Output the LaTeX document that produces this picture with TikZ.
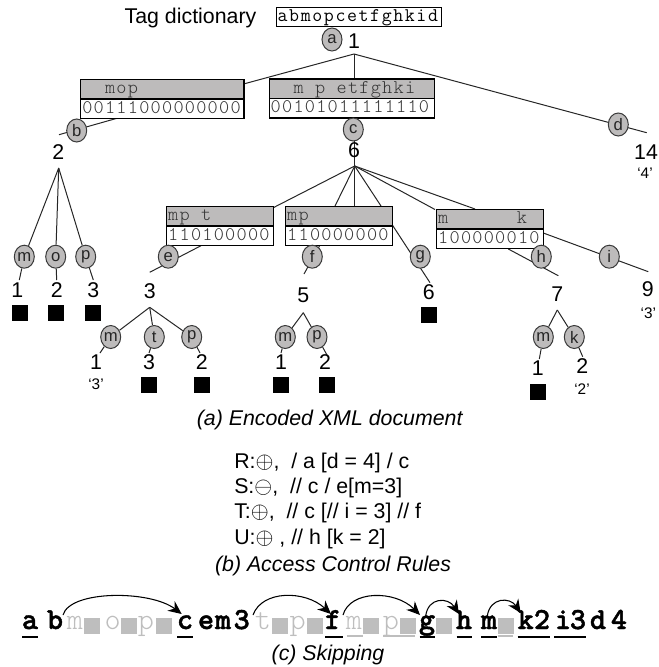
\documentclass[tikz,border=0pt]{standalone}
\usepackage{fontspec}
\setmainfont{Liberation Sans}
\newfontfamily\cellfont[LetterSpace=6.5]{Latin Modern Mono Light}
\newfontfamily\dictfont[LetterSpace=8.3]{Latin Modern Mono}
\newfontfamily\skipfont[BoldFeatures={FakeBold=1.5}]{Latin Modern Mono Light}
\newcommand\cellgap{\hspace*{8.55pt}}
\usetikzlibrary{shapes.geometric,arrows.meta,backgrounds}
\definecolor{hdrgray}{HTML}{BDBBBB}
\definecolor{skipgray}{HTML}{BEBEBE}
\definecolor{rim}{HTML}{3A3A3A}
\tikzset{
  x=0.75pt,y=-0.75pt,
  tagcirc/.style={ellipse,draw=rim,line width=0.75pt,fill=hdrgray,minimum width=15pt,minimum height=17.25pt,inner sep=0pt,font=\fontsize{12.5}{13}\selectfont,text=black!85},
  numlbl/.style={inner sep=0pt,font=\fontsize{16}{18}\selectfont},
  quotelbl/.style={inner sep=0pt,font=\fontsize{11.5}{13}\selectfont},
  leafsq/.style={fill=black,minimum size=12pt,inner sep=0pt},
  cellrow/.style={draw=black,line width=0.8pt,anchor=north west,align=left,inner xsep=1.2pt,inner ysep=0pt,text height=9pt,text depth=2.5pt,font=\cellfont\fontsize{14.5}{15}\selectfont,text=black!80},
  hdrrow/.style={cellrow,fill=hdrgray},
  bitrow/.style={cellrow,fill=white},
  wide/.style={text width=120pt,minimum width=122.6pt,minimum height=14.6pt},
  wider/.style={text width=121.6pt,minimum width=124.1pt,minimum height=14.6pt},
  narrow/.style={text width=77.4pt,minimum width=79.9pt,minimum height=14.6pt},
  edge/.style={line width=0.75pt,draw=black!85},
  caption/.style={inner sep=0pt,font=\fontsize{16}{18}\selectfont\itshape},
  rulelbl/.style={inner sep=0pt,anchor=west,font=\fontsize{16}{18}\selectfont},
  skiptxt/.style={inner sep=0pt,anchor=base,font=\skipfont\bfseries\fontsize{23}{24}\selectfont},
  skipoff/.style={inner sep=0pt,anchor=base,text=skipgray,font=\skipfont\fontsize{23}{24}\selectfont},
  skipsq/.style={fill=skipgray,minimum size=12pt,inner sep=0pt},
  skiparc/.style={line width=0.8pt,-{Stealth[length=10pt,width=9pt]}},
  ubar/.style={line width=1.3pt,draw=black},
  ubaroff/.style={line width=1.3pt,draw=skipgray},
}
\begin{document}
\begin{tikzpicture}
\useasboundingbox (0,0) rectangle (658,667);

\node[inner sep=0pt,font=\fontsize{16}{18}\selectfont] (dicttitle) at (190.5,18) {Tag dictionary};
\node[draw=black,line width=0.8pt,anchor=north west,inner xsep=1.2pt,inner ysep=0pt,text width=121.6pt,minimum width=124.1pt,minimum height=14.25pt,text height=8.5pt,text depth=2.5pt,align=left,font=\dictfont\fontsize{14.5}{15}\selectfont] (dict) at (275.5,7) {abmopcetfghkid};

% bitmap boxes
\node[hdrrow,wide] (bh) at (80,79) {\cellgap\cellgap mop};
\node[bitrow,wide] (bb) at (80,98.5) {00111000000000};
\node[hdrrow,wider] (ch) at (268.5,78.5) {\cellgap\cellgap m\cellgap p\cellgap etfghki};
\node[bitrow,wider] (cb) at (268.5,98) {00101011111110};
\node[hdrrow,narrow] (eh) at (166,206) {mp\cellgap t};
\node[bitrow,narrow] (eb) at (166,225.5) {110100000};
\node[hdrrow,narrow] (fh) at (285,206) {mp};
\node[bitrow,narrow] (fb) at (285,225.5) {110000000};
\node[hdrrow,narrow] (hh) at (436,209) {m\cellgap\cellgap\cellgap\cellgap\cellgap\cellgap k};
\node[bitrow,narrow] (hb) at (436,228.5) {100000010};

% tag circles
\foreach \n/\x/\y/\t in {a/332/39.5/a,b/76.7/130.5/b,c/353.3/129.5/c,d/618.3/124.5/d,
  lm/24.3/256.7/m,lo/55.7/256.7/o,lp/85.7/256.7/p,e/168.3/256.7/e,f/312.3/256.7/f,
  g/420.3/256.7/g,h/541.3/256.7/h,i/609.3/256.7/i,em/110.7/337/m,et/154.3/337/t,ep/191.7/337/p,
  fm/285.3/337/m,fp/317/337/p,hm/543.3/337/m,hk/574.3/337/k}
  \node[tagcirc] (c\n) at (\x,\y) {\t};

% numbers
\foreach \n/\x/\y/\t in {root/354/40.7/1,six/354/150/6,two/58.3/151.7/2,ft/646/151.7/14,
  lmn/17.3/290/1,lon/56.7/290/2,lpn/93.3/290/3,en/149.7/290.7/3,fn/303.3/295/5,gn/428.7/291.7/6,
  hn/557.3/294/7,in/647.7/289/9,emn/96/361.7/1,etn/149/361.7/3,epn/201.7/361.7/2,
  fmn/281/361.7/1,fpn/325/361.7/2,hmn/537.7/368/1,hkn/582.3/366/2}
  \node[numlbl] (n\n) at (\x,\y) {\t};

% quoted values
\foreach \n/\x/\y/\t in {d/645/173/4,i/648.3/313/3,e/96/384/3,k/582/389/2}
  \node[quotelbl] (q\n) at (\x,\y) {‘\t’};

% black leaves
\foreach \n/\x/\y in {a/19.7/313,b/56.3/313,c/93/313,d/428.5/315,e/149/385,f/202/385,g/280.7/385,h/327.3/385,i/537.7/392}
  \node[leafsq] (s\n) at (\x,\y) {};

% captions and rules
\node[caption] (capa) at (329.7,420) {(a) Encoded XML document};
\node[rulelbl] (ruler) at (234,463) {R:$\oplus$,~ / a [d = 4] / c};
\node[rulelbl] (rules) at (234,488) {S:$\ominus$,~ // c / e[m=3]};
\node[rulelbl] (rulet) at (234,513) {T:$\oplus$,~ // c [// i = 3] // f};
\node[rulelbl] (ruleu) at (234,539) {U:$\oplus$ , // h [k = 2]};
\node[caption] (capb) at (333,566) {(b) Access Control Rules};
\node[caption] (capc) at (328,655) {(c) Skipping};

% skipping sequence
\foreach \n/\x/\y in {a/91.5/626,b/129/626,c/164/626,d/280/626,e/315/626,f/371/626,g/407.5/626,h/444/626,i/505.5/626}
  \node[skipsq] (q\n x) at (\x,\y) {};
\foreach \n/\x/\t in {a/30/a,b/55/b,c/185/c,e/206/e,mm/223/m,tt/241.7/3,f/333/f,g/427/g,h/464/h,m/489/m,k/525.7/k,two/542/2,i/563/i,thr/578/3,d/598/d,fr/619/4}
  \node[skiptxt] (k\n) at (\x,629) {\t};
\foreach \n/\x/\t in {m/75/m,o/112.7/o,p/146/p,t/263/t,pp/297.7/p,mm/354/m,ppp/391/p}
  \node[skipoff] (o\n) at (\x,629) {\t};

\coordinate (ua1) at (22,637); \coordinate (ua2) at (38,637);
\coordinate (uc1) at (177,637); \coordinate (uc2) at (193,637);
\coordinate (uf1) at (325,637); \coordinate (uf2) at (342.7,637);
\coordinate (ug1) at (419.7,637); \coordinate (ug2) at (435,637);
\coordinate (uh1) at (456.7,637); \coordinate (uh2) at (472,637);
\coordinate (um1) at (481,637); \coordinate (um2) at (497,637);
\coordinate (uk1) at (517.7,637); \coordinate (uk2) at (550,637);
\coordinate (ui1) at (554,637); \coordinate (ui2) at (585.7,637);
\foreach \n in {a,c,f,g,h,m,k,i} \draw[ubar] (u\n 1) -- (u\n 2);
\coordinate (vm1) at (346.7,636); \coordinate (vm2) at (362.7,636);
\coordinate (vp1) at (383,636); \coordinate (vp2) at (415,636);
\coordinate (vs1) at (497.7,636); \coordinate (vs2) at (513,636);
\foreach \n in {m,p,s} \draw[ubaroff] (v\n 1) -- (v\n 2);

\coordinate (a1s) at (63,615); \coordinate (a1e) at (181.7,614);
\coordinate (a2s) at (253,615); \coordinate (a2e) at (331,614);
\coordinate (a3s) at (343,615); \coordinate (a3e) at (420,615);
\coordinate (a4s) at (425.7,616); \coordinate (a4e) at (459,614);
\coordinate (a5s) at (487.3,616); \coordinate (a5e) at (520.7,613);
\draw[skiparc] (a1s) .. controls (70,590) and (150,590) .. (a1e);
\draw[skiparc] (a2s) .. controls (262,590) and (305,590) .. (a2e);
\draw[skiparc] (a3s) .. controls (350,590) and (395,590) .. (a3e);
\draw[skiparc] (a4s) .. controls (428,597) and (448,597) .. (a4e);
\draw[skiparc] (a5s) .. controls (490,597) and (510,597) .. (a5e);

% tree connectors, under the nodes
\coordinate (ap1) at (354,54); \coordinate (ap2) at (58.7,168); \coordinate (ap3) at (149.7,307.3);
\coordinate (ap5) at (303.3,312.7); \coordinate (ap6) at (354.7,166); \coordinate (ap7) at (557.3,310);
\coordinate (bS) at (118,118); \coordinate (bE) at (59,134.7);
\coordinate (dE) at (646.7,132.7);
\coordinate (bi) at (243.5,84);
\coordinate (l1) at (272.7,208); \coordinate (l2) at (335,206); \coordinate (l3) at (381,206);
\coordinate (l4) at (435,209.5); \coordinate (l5) at (475,209);
\coordinate (eS) at (201,245.7); \coordinate (eE) at (149.7,272.3);
\coordinate (fS) at (320,245); \coordinate (fE) at (304,274);
\coordinate (gS) at (391.7,224); \coordinate (gE) at (430,282.7);
\coordinate (hS) at (508.3,249); \coordinate (hE) at (558.3,275.7);
\coordinate (iS) at (543.3,233); \coordinate (iE) at (648.3,271.7);
\begin{scope}[on background layer]
\draw[edge] (ap1) -- (bi);
\draw[edge] (ap1) -- (ch.north -| ap1);
\draw[edge] (ap1) -- (dE);
\draw[edge] (bS) -- (bE);
\draw[edge] (ap6) -- (l1); \draw[edge] (ap6) -- (l2); \draw[edge] (ap6) -- (l3);
\draw[edge] (ap6) -- (l4); \draw[edge] (ap6) -- (l5);
\draw[edge] (ap2) -- (clm); \draw[edge] (ap2) -- (clo); \draw[edge] (ap2) -- (clp);
\draw[edge] (clm) -- (19.3,280);
\draw[edge] (clo) -- (56.7,280);
\draw[edge] (clp) -- (93.3,280);
\draw[edge] (eS) -- (eE); \draw[edge] (fS) -- (fE); \draw[edge] (gS) -- (gE);
\draw[edge] (hS) -- (hE); \draw[edge] (iS) -- (iE);
\draw[edge] (ap3) -- (cem); \draw[edge] (ap3) -- (cet); \draw[edge] (ap3) -- (cep);
\draw[edge] (cem) -- (100,353); \draw[edge] (cet) -- (149,353); \draw[edge] (cep) -- (200,353);
\draw[edge] (ap5) -- (cfm); \draw[edge] (ap5) -- (cfp);
\draw[edge] (cfm) -- (281,353); \draw[edge] (cfp) -- (327,355);
\draw[edge] (ap7) -- (chm); \draw[edge] (ap7) -- (chk);
\draw[edge] (chm) -- (539.3,359); \draw[edge] (chk) -- (582.7,356.7);
\end{scope}
\end{tikzpicture}
\end{document}
